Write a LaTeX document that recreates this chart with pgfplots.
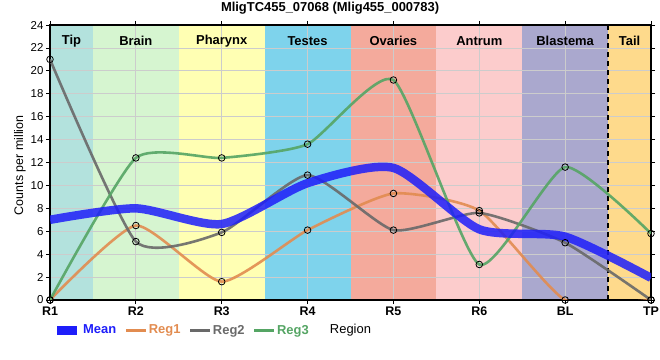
\documentclass[border=0pt]{standalone}
\usepackage{fontspec}
\setmainfont{Liberation Sans}
\usepackage{pgfplots}
\pgfplotsset{compat=1.18}
\definecolor{cTip}{RGB}{179,226,221}
\definecolor{cBrain}{RGB}{214,245,208}
\definecolor{cPharynx}{RGB}{255,255,179}
\definecolor{cTestes}{RGB}{126,211,236}
\definecolor{cOvaries}{RGB}{244,170,156}
\definecolor{cAntrum}{RGB}{252,204,204}
\definecolor{cBlastema}{RGB}{170,168,206}
\definecolor{cTail}{RGB}{254,218,140}
\definecolor{cMean}{RGB}{30,30,250}
\definecolor{cReg1}{RGB}{226,140,80}
\definecolor{cReg2}{RGB}{105,105,105}
\definecolor{cReg3}{RGB}{85,165,100}
\begin{document}
\begin{tikzpicture}
\begin{axis}[
  set layers,
  at={(0,0)}, anchor=south west,
  width=601bp, height=275bp, scale only axis,
  xmin=0, xmax=7, ymin=0, ymax=24,
  xtick={0,1,2,3,4,5,6,7},
  xticklabels={R1,R2,R3,R4,R5,R6,BL,TP},
  ytick={0,2,...,24},
  grid=major,
  grid style={draw=black!20, line width=0.8bp},
  tick align=outside,
  major tick length=4bp,
  tick style={black, line width=0.8bp},
  axis line style={line width=1.6bp},
  /pgf/number format/assume math mode=true,
  yticklabel style={font=\fontsize{11.5}{13}\selectfont, xshift=1bp},
  xticklabel style={font=\bfseries\fontsize{12.5}{14}\selectfont, yshift=1bp},
  title={MligTC455\_07068 (Mlig455\_000783)},
  title style={at={(axis description cs:0.466,1.062)}, anchor=center, yshift=-6pt, font=\bfseries\fontsize{13}{15}\selectfont},
  ylabel={Counts per million},
  ylabel style={at={(axis description cs:-0.05,0.49)}, anchor=center, font=\fontsize{12.5}{14}\selectfont},
  xlabel={Region},
  xlabel style={at={(axis description cs:0.5,-0.11)}, anchor=center, font=\fontsize{13}{15}\selectfont},
  legend style={at={(axis description cs:0.0,-0.11)}, anchor=west, draw=none, fill=none,
    legend columns=4, font=\bfseries\fontsize{13}{15}\selectfont,
    nodes={inner sep=1.5bp},
    /tikz/every even column/.append style={column sep=7bp},
    legend cell align=left},
  legend image code/.code={\draw[#1] (0bp,0bp) -- (20bp,0bp);},
]
% background bands
\addplot[fill=cTip, draw=none, on layer=axis background, forget plot] coordinates {(0,24) (0.5,24)} \closedcycle;
\addplot[fill=cBrain, draw=none, on layer=axis background, forget plot] coordinates {(0.5,24) (1.5,24)} \closedcycle;
\addplot[fill=cPharynx, draw=none, on layer=axis background, forget plot] coordinates {(1.5,24) (2.5,24)} \closedcycle;
\addplot[fill=cTestes, draw=none, on layer=axis background, forget plot] coordinates {(2.5,24) (3.5,24)} \closedcycle;
\addplot[fill=cOvaries, draw=none, on layer=axis background, forget plot] coordinates {(3.5,24) (4.5,24)} \closedcycle;
\addplot[fill=cAntrum, draw=none, on layer=axis background, forget plot] coordinates {(4.5,24) (5.5,24)} \closedcycle;
\addplot[fill=cBlastema, draw=none, on layer=axis background, forget plot] coordinates {(5.5,24) (6.5,24)} \closedcycle;
\addplot[fill=cTail, draw=none, on layer=axis background, forget plot] coordinates {(6.5,24) (7,24)} \closedcycle;
% band labels
\node[font=\bfseries\fontsize{13}{15}\selectfont] at (axis cs:0.25,22.6) {Tip};
\node[font=\bfseries\fontsize{13}{15}\selectfont] at (axis cs:1,22.6) {Brain};
\node[font=\bfseries\fontsize{13}{15}\selectfont] at (axis cs:2,22.6) {Pharynx};
\node[font=\bfseries\fontsize{13}{15}\selectfont] at (axis cs:3,22.6) {Testes};
\node[font=\bfseries\fontsize{13}{15}\selectfont] at (axis cs:4,22.6) {Ovaries};
\node[font=\bfseries\fontsize{13}{15}\selectfont] at (axis cs:5,22.6) {Antrum};
\node[font=\bfseries\fontsize{13}{15}\selectfont] at (axis cs:6,22.6) {Blastema};
\node[font=\bfseries\fontsize{13}{15}\selectfont] at (axis cs:6.75,22.6) {Tail};
% dashed separator
\addplot[black, line width=2bp, dash pattern=on 5bp off 4bp, forget plot] coordinates {(6.5,0) (6.5,24)};
% legend entries
\addlegendimage{line width=8.5bp, color=cMean}
\addlegendentry{\textcolor{cMean}{Mean}}
\addlegendimage{line width=2.5bp, color=cReg1}
\addlegendentry{\textcolor{cReg1}{Reg1}}
\addlegendimage{line width=2.5bp, color=cReg2}
\addlegendentry{\textcolor{cReg2}{Reg2}}
\addlegendimage{line width=2.5bp, color=cReg3}
\addlegendentry{\textcolor{cReg3}{Reg3}}
% series
\addplot[cReg1, line width=2.6bp, opacity=0.9, smooth, tension=0.33, forget plot] coordinates {(0,0) (1,6.5) (2,1.6) (3,6.1) (4,9.3) (5,7.8) (6,0) (7,0)};
\addplot[cReg2, line width=2.6bp, opacity=0.9, smooth, tension=0.33, forget plot] coordinates {(0,21) (1,5.1) (2,5.9) (3,10.9) (4,6.1) (5,7.6) (6,5.0) (7,0)};
\addplot[cReg3, line width=2.6bp, opacity=0.9, smooth, tension=0.33, forget plot] coordinates {(0,0) (1,12.4) (2,12.4) (3,13.6) (4,19.2) (5,3.1) (6,11.6) (7,5.8)};
\addplot[cMean, line width=8.5bp, opacity=0.85, smooth, tension=0.4, forget plot] coordinates {(0,7.0) (1,8.0) (2,6.63) (3,10.2) (4,11.53) (5,6.17) (6,5.53) (7,1.93)};
% markers
\addplot[only marks, mark=o, mark size=3.3bp, mark options={draw=black, line width=0.8bp}, forget plot] coordinates {(0,0) (1,6.5) (2,1.6) (3,6.1) (4,9.3) (5,7.8) (6,0) (7,0)};
\addplot[only marks, mark=o, mark size=3.3bp, mark options={draw=black, line width=0.8bp}, forget plot] coordinates {(0,21) (1,5.1) (2,5.9) (3,10.9) (4,6.1) (5,7.6) (6,5.0) (7,0)};
\addplot[only marks, mark=o, mark size=3.3bp, mark options={draw=black, line width=0.8bp}, forget plot] coordinates {(0,0) (1,12.4) (2,12.4) (3,13.6) (4,19.2) (5,3.1) (6,11.6) (7,5.8)};
\end{axis}
\pgfresetboundingbox
\useasboundingbox (-50bp,-60bp) rectangle (610bp,300bp);
\end{tikzpicture}
\end{document}
